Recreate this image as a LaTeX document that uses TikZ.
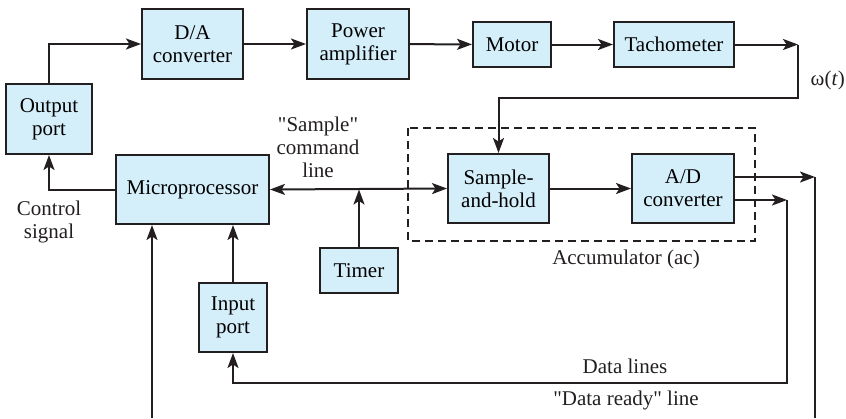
\documentclass[tikz,border=0pt]{standalone}
\usepackage{fontspec}
\setmainfont{Liberation Serif}[Ligatures=TeXOff]
\usetikzlibrary{arrows.meta}
\definecolor{boxblue}{RGB}{212,238,250}
\definecolor{ink}{RGB}{35,31,32}
\tikzset{
  blk/.style={draw=ink, fill=boxblue, line width=2pt, inner sep=0pt, align=center,
    font=\fontsize{21}{23}\selectfont},
  lbl/.style={inner sep=0pt, align=center, text=ink, font=\fontsize{21}{23}\selectfont},
  tip/.tip={Stealth[length=15pt,width=11pt,inset=3.5pt]},
  sig/.style={draw=ink, line width=2pt, -tip},
  wire/.style={draw=ink, line width=2pt}
}
\begin{document}
\begin{tikzpicture}[x=1pt,y=-1pt]
\useasboundingbox (0,0) rectangle (846,418);
% blocks
\node[blk, minimum width=86pt,  minimum height=70pt] (outport) at (49,119)    {Output\\port};
\node[blk, minimum width=101pt, minimum height=70pt] (dac)     at (192.5,44)  {D/A\\converter};
\node[blk, minimum width=102pt, minimum height=70pt] (pamp)    at (358,44)    {Power\\amplifier};
\node[blk, minimum width=78pt,  minimum height=45pt] (motor)   at (512,44.5)  {Motor};
\node[blk, minimum width=120pt, minimum height=45pt] (tacho)   at (674,44.5)  {Tachometer};
\node[blk, minimum width=153pt, minimum height=69pt] (micro)   at (192.5,189.5) {Microprocessor};
\node[blk, minimum width=78pt,  minimum height=45pt] (timer)   at (359,270.5) {Timer};
\node[blk, minimum width=68pt,  minimum height=69pt] (inport)  at (233,317.5) {Input\\port};
\node[blk, minimum width=101pt, minimum height=69pt] (sah)     at (498.5,188.5) {Sample-\\and-hold};
\node[blk, minimum width=102pt, minimum height=69pt] (adc)     at (683,188.5) {A/D\\converter};
% accumulator frame
\draw[draw=ink, line width=1.8pt, dash pattern=on 8pt off 5pt] (408,128) rectangle (755,241);
% labels
\node[lbl] (ctrl)  at (49,222)   {Control\\signal};
\node[lbl] (cmd)   at (318,147)  {"Sample"\\command\\line};
\node[lbl] (acc)   at (626,259)  {Accumulator (ac)};
\node[lbl] (dlin)  at (625,366)  {Data lines};
\node[lbl] (dry)   at (626,400)  {"Data ready" line};
\node[lbl, anchor=east] (omega) at (845,80) {ω(\textit{t})};
% forward path
\draw[sig] (outport.north) |- (dac.west);
\foreach \a/\b in {dac/pamp, pamp/motor, motor/tacho, sah/adc}
  \draw[sig] (\a) -- (\b);
\coordinate (tp) at (798,44.5);
\coordinate (tq) at (798,98);
\draw[sig] (tacho.east) -- (tp);
\draw[sig] (tp) -- (tq) -| (sah.north);
% control and sampling
\draw[sig] (micro.west) -| (outport.south);
\draw[sig, tip-tip] (micro.east) -- (sah.west);
\draw[sig] (timer.north) -- (timer.north |- micro.east);
% data ready and data lines
\coordinate (ra) at (815,177);
\coordinate (rb) at (815,418);
\coordinate (da) at (787,200);
\coordinate (db) at (787,383);
\coordinate (mb) at (152,418);
\draw[sig] (adc.east |- ra) -- (ra);
\draw[wire] (ra) -- (rb);
\draw[sig] (adc.east |- da) -- (da);
\draw[sig] (da) -- (db) -| (inport.south);
\draw[sig] (inport.north) -- (inport.north |- micro.south);
\draw[sig] (mb) -- (mb |- micro.south);
\end{tikzpicture}
\end{document}
